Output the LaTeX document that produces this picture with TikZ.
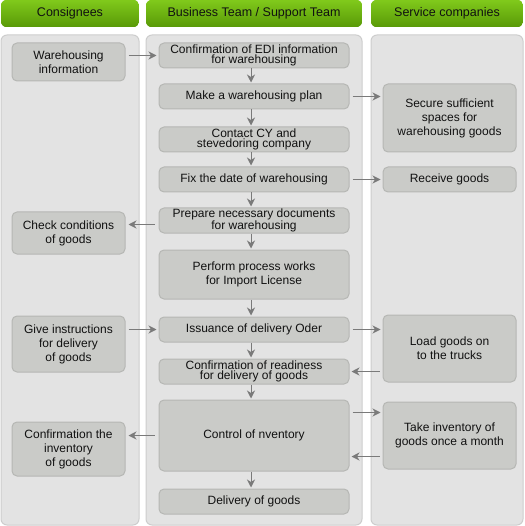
\documentclass[tikz,border=0pt]{standalone}
\usepackage{fontspec}
\setmainfont{Liberation Sans}
\usetikzlibrary{arrows.meta,calc}
\definecolor{hdrtop}{HTML}{80C91B}
\definecolor{hdrbot}{HTML}{5A9B08}
\definecolor{panelfill}{HTML}{E3E3E3}
\definecolor{paneldraw}{HTML}{CDCDCD}
\definecolor{boxfill}{HTML}{CACBC8}
\definecolor{boxdraw}{HTML}{B6B7B4}
\definecolor{arrcol}{HTML}{7A7A7A}
\definecolor{txtcol}{HTML}{111111}
\tikzset{
  hdr/.style={draw=none, minimum height=27pt, inner sep=0pt},
  hdrtxt/.style={inner sep=0pt, text=txtcol, font=\fontsize{12.5}{14}\selectfont},
  panel/.style={draw=paneldraw, line width=1pt, fill=panelfill, rounded corners=6pt,
    minimum height=490pt, inner sep=0pt},
  box/.style={draw=boxdraw, line width=1pt, fill=boxfill, rounded corners=5pt,
    inner sep=0pt, align=center, text=txtcol, font=\fontsize{12}{14}\selectfont},
  cbox/.style={box, minimum width=190pt, minimum height=25pt},
  tight/.style={font=\fontsize{12}{10.5}\selectfont},
  lbox/.style={box, minimum width=113pt},
  rbox/.style={box, minimum width=133pt},
  arr/.style={draw=arrcol, line width=1pt, -{Stealth[length=8pt,width=8pt,inset=2.5pt]}},
}
\begin{document}
\begin{tikzpicture}[x=1pt,y=-1pt]
\useasboundingbox (0,0) rectangle (524,526);
% headers (frames)
\node[hdr, minimum width=138pt] (h1) at (70,13.5) {};
\node[hdr, minimum width=216pt] (h2) at (254,13.5) {};
\node[hdr, minimum width=152pt] (h3) at (447,13.5) {};
% green gradient inside each header
\foreach \h in {h1,h2,h3}{
  \begin{scope}
    \clip[rounded corners=6pt] (\h.north west) rectangle (\h.south east);
    \foreach \i in {0,...,26}{
      \pgfmathtruncatemacro\p{100*\i/26}
      \fill[hdrbot!\p!hdrtop] ($(\h.north west)+(0,\i)$) rectangle ($(\h.north east)+(0,\i+1.3)$);
    }
  \end{scope}
}
\node[hdrtxt] (t1) at (h1.center) {Consignees};
\node[hdrtxt] (t2) at (h2.center) {Business Team / Support Team};
\node[hdrtxt] (t3) at (h3.center) {Service companies};
% panels
\node[panel, minimum width=138pt] (p1) at (70,280) {};
\node[panel, minimum width=216pt] (p2) at (254,280) {};
\node[panel, minimum width=152pt] (p3) at (447,280) {};
% centre column
\node[cbox, tight] (c1) at (254,55.5) {Confirmation of EDI information\\for warehousing};
\node[cbox] (c2) at (254,96.5) {Make a warehousing plan};
\node[cbox, tight] (c3) at (254,139.5) {Contact CY and\\stevedoring company};
\node[cbox] (c4) at (254,179.5) {Fix the date of warehousing};
\node[cbox, tight] (c5) at (254,220.5) {Prepare necessary documents\\for warehousing};
\node[cbox, minimum height=49pt] (c6) at (254,274.5) {Perform process works\\for Import License};
\node[cbox] (c7) at (254,329.5) {Issuance of delivery Oder};
\node[cbox, tight] (c8) at (254,371.5) {Confirmation of readiness\\for delivery of goods};
\node[cbox, minimum height=71pt] (c9) at (254,435.5) {Control of nventory};
\node[cbox] (c10) at (254,501.5) {Delivery of goods};
% left column
\node[lbox, minimum height=38pt] (l1) at (68.5,62) {Warehousing\\information};
\node[lbox, minimum height=42pt] (l2) at (68.5,233) {Check conditions\\of goods};
\node[lbox, minimum height=56pt] (l3) at (68.5,344) {Give instructions\\for delivery\\of goods};
\node[lbox, minimum height=54pt] (l4) at (68.5,449) {Confirmation the\\inventory\\of goods};
% right column
\node[rbox, minimum height=68pt] (r1) at (449.5,118) {Secure sufficient\\spaces for\\warehousing goods};
\node[rbox, minimum height=25pt] (r2) at (449.5,179.5) {Receive goods};
\node[rbox, minimum height=67pt] (r3) at (449.5,348.5) {Load goods on\\to the trucks};
\node[rbox, minimum height=67pt] (r4) at (449.5,435.5) {Take inventory of\\goods once a month};
% helper coordinates (canvas shifts: negative = downwards)
\coordinate (a5) at ([yshift=-4pt]c5.west);
\coordinate (a9u) at ([yshift=23pt]c9.east);
\coordinate (a9d) at ([yshift=-21pt]c9.east);
% vertical arrows
\foreach \a/\b in {c1/c2,c2/c3,c3/c4,c4/c5,c5/c6,c6/c7,c7/c8,c8/c9,c9/c10}{
  \draw[arr, shorten >=1pt] ([xshift=-3pt]\a.south) -- ([xshift=-3pt]\b.north);
}
% horizontal arrows
\draw[arr, shorten <=3pt, shorten >=2pt] (l1.east |- c1.center) -- (c1.west);
\draw[arr, shorten <=3pt, shorten >=2pt] (c2.east) -- (r1.west |- c2.center);
\draw[arr, shorten <=3pt, shorten >=2pt] (c4.east) -- (r2.west);
\draw[arr, shorten <=4pt, shorten >=3pt] (a5) -- (l2.east |- a5);
\draw[arr, shorten <=3pt, shorten >=2pt] (l3.east |- c7.center) -- (c7.west);
\draw[arr, shorten <=3pt, shorten >=2pt] (c7.east) -- (r3.west |- c7.center);
\draw[arr, shorten <=3pt, shorten >=2pt] (r3.west |- c8.center) -- (c8.east);
\draw[arr, shorten <=3pt, shorten >=2pt] (a9u) -- (r4.west |- a9u);
\draw[arr, shorten <=3pt, shorten >=2pt] (r4.west |- a9d) -- (a9d);
\draw[arr, shorten <=4pt, shorten >=3pt] (c9.west) -- (l4.east |- c9.west);
\end{tikzpicture}
\end{document}
